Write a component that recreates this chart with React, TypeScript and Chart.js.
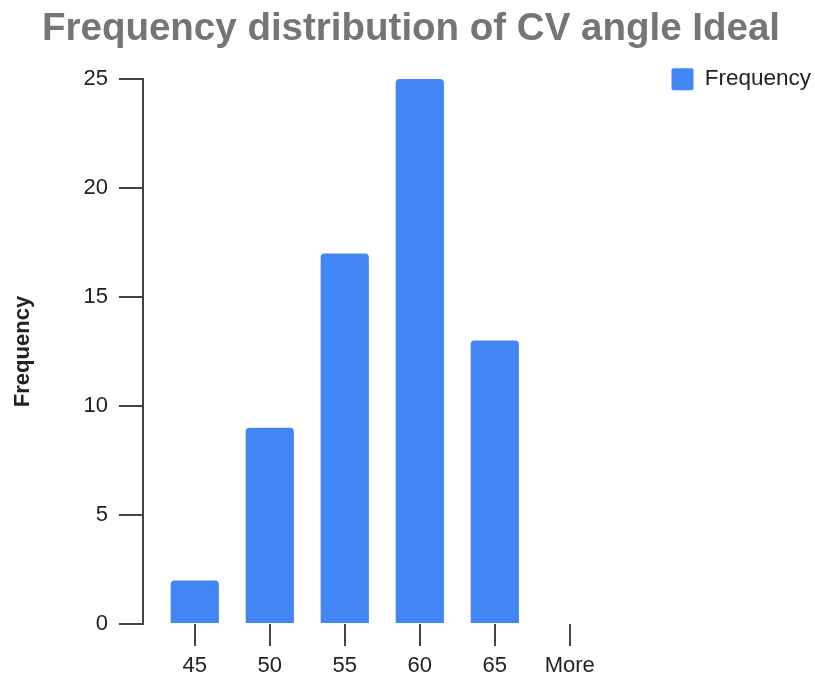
import React, { useEffect, useRef } from "react";
import { Chart, registerables } from "chart.js";

Chart.register(...registerables);

const chartTitle = "Frequency distribution of CV angle Ideal";
const seriesName = "Frequency";
const yAxisTitle = "Frequency";
const categories = ["45", "50", "55", "60", "65", "More"];
const frequency = [2, 9, 17, 25, 13, 0];
const yTickValues = [0, 5, 10, 15, 20, 25];

const FONT = "'Liberation Sans', Arial, Helvetica, sans-serif";
const BLUE = "#4285F4";
const AXIS = "#444444";
const TEXT = "#222222";

export default function App() {
  const ref = useRef<HTMLCanvasElement | null>(null);

  useEffect(() => {
    if (!ref.current) return;
    Chart.defaults.font.family = FONT;
    const chart = new Chart(ref.current, {
      type: "bar",
      data: {
        datasets: [
          {
            label: seriesName,
            data: categories.map((_, i) => ({ x: i, y: frequency[i] })),
            backgroundColor: BLUE,
            borderWidth: 0,
            borderRadius: 4,
            barPercentage: 0.643,
            categoryPercentage: 1,
          },
        ],
      },
      options: {
        animation: false,
        responsive: false,
        devicePixelRatio: 1,
        layout: { padding: { left: 10, right: 3, top: 8, bottom: -10.4 } },
        plugins: {
          title: {
            display: true,
            text: chartTitle,
            color: "#757575",
            font: { size: 38.5, weight: "bold", family: FONT },
            padding: { top: -2, bottom: 26.8 },
          },
          legend: {
            display: true,
            position: "right",
            align: "start",
            labels: {
              boxWidth: 22,
              boxHeight: 22,
              padding: 60,
              color: TEXT,
              font: { size: 22.5, family: FONT },
              useBorderRadius: true,
              borderRadius: 2,
            },
          },
          tooltip: { enabled: false },
        },
        scales: {
          x: {
            type: "linear",
            offset: false,
            min: -0.692,
            max: 5.556,
            bounds: "data",
            afterBuildTicks: (axis: any) => {
              axis.ticks = categories.map((_, i) => ({ value: i }));
            },
            ticks: {
              callback: (v: any) => categories[Math.round(Number(v))] ?? "",
              color: TEXT,
              font: { size: 22, family: FONT },
              padding: 7,
              maxRotation: 0,
              autoSkip: false,
            },
            grid: {
              display: true,
              offset: false,
              drawOnChartArea: false,
              drawTicks: true,
              tickLength: 22,
              color: AXIS,
              lineWidth: 2,
            },
            border: { display: false },
          },
          y: {
            type: "linear",
            min: 0,
            max: 25,
            afterBuildTicks: (axis: any) => {
              axis.ticks = yTickValues.map((v) => ({ value: v }));
            },
            ticks: {
              color: TEXT,
              font: { size: 22, family: FONT },
              padding: 11,
            },
            grid: {
              display: true,
              drawOnChartArea: false,
              drawTicks: true,
              tickLength: 24,
              color: AXIS,
              lineWidth: 2,
            },
            border: { display: true, color: AXIS, width: 2 },
            title: {
              display: true,
              text: yAxisTitle,
              color: TEXT,
              font: { size: 22, weight: "bold", family: FONT },
              padding: { top: 0, bottom: 36 },
            },
          },
        },
      },
    } as any);
    return () => chart.destroy();
  }, []);

  return (
    <div style={{ position: "fixed", left: 0, top: 0, width: 815, height: 676, background: "#fff" }}>
      <canvas ref={ref} width={815} height={676} style={{ display: "block" }} />
    </div>
  );
}
